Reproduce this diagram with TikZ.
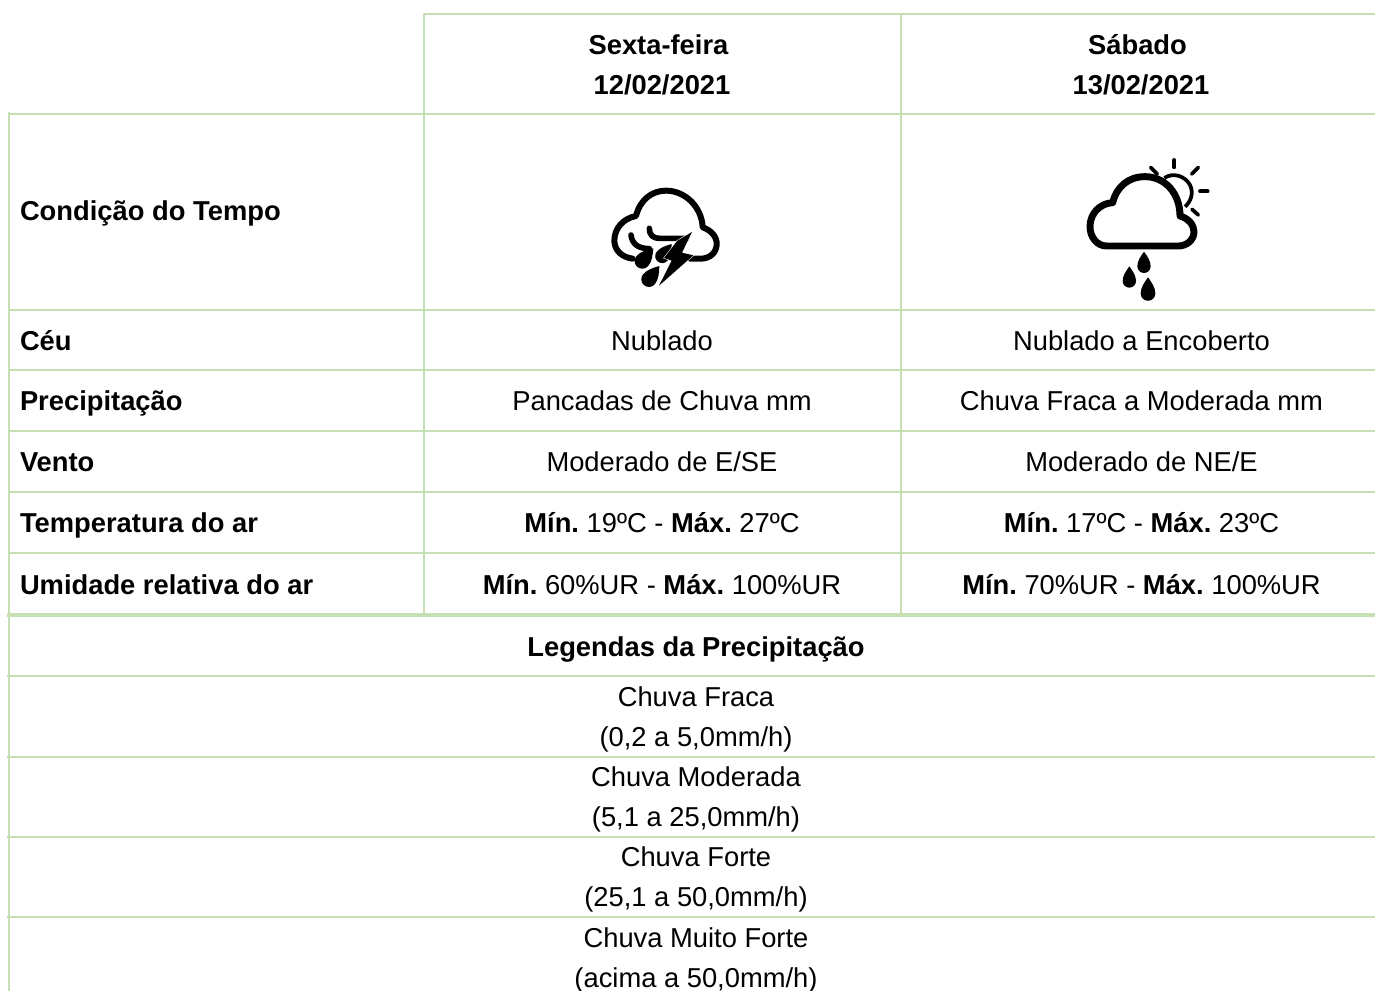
\documentclass[tikz,border=0pt]{standalone}
\usepackage{fontspec}
\setmainfont{Liberation Sans}
\frenchspacing
\definecolor{rule}{HTML}{C6E0B4}
\tikzset{
  x=0.75pt,y=-0.75pt,
  grid/.style={draw=rule,line width=1.5pt},
  gridthick/.style={draw=rule,line width=3pt},
  cell/.style={inner sep=0pt,outer sep=0pt,anchor=base,font=\fontsize{20.5pt}{30pt}\selectfont},
  lcell/.style={cell,anchor=base west,font=\fontsize{20.5pt}{30pt}\selectfont\bfseries},
  multi/.style={cell,anchor=center,align=center},
  boldmulti/.style={multi,font=\fontsize{20.5pt}{30pt}\selectfont\bfseries},
  outline/.style={draw=black,line width=5.2pt,line join=round,line cap=round},
  stormline/.style={draw=black,line width=4.5pt,line join=round,line cap=round},
  ray/.style={draw=black,line width=2.8pt,line cap=round}
}
\newcommand{\teardrop}[3]{% tip x, tip y, radius (body below the tip)
  \fill (#1,#2) .. controls (#1+0.5*#3,#2+0.7*#3) and (#1+#3,#2+1.4*#3) .. (#1+#3,#2+2.2*#3)
   arc[start angle=0,end angle=180,radius=#3]
   .. controls (#1-#3,#2+1.4*#3) and (#1-0.5*#3,#2+0.7*#3) .. (#1,#2) -- cycle;}
\begin{document}
\begin{tikzpicture}
\useasboundingbox (0,0) rectangle (1375,991);
% grid
\draw[grid] (424,13) |- (1375,14);
\draw[grid] (424,14) -- (424,613);
\draw[grid] (901,14) -- (901,613);
\draw[grid] (9,112) -- (9,991);
\draw[grid] (9,114) -- (1375,114);
\foreach \yy in {310,370,431,492,553}{\draw[grid] (9,\yy) -- (1375,\yy);}
\draw[gridthick] (7,615) -- (1375,615);
\foreach \yy in {676,757,837,917}{\draw[grid] (7,\yy) -- (1375,\yy);}
% headers
\node[boldmulti] (h1) at (662,65) {Sexta-feira\hspace*{5.25pt}\\12/02/2021};
\node[boldmulti] (h2) at (1141,65) {Sábado\hspace*{5.25pt}\\13/02/2021};
% row labels
\node[lcell] (r0) at (20,221) {Condição do Tempo};
\node[lcell] (r1) at (20,351) {Céu};
\node[lcell] (r2) at (20,411) {Precipitação};
\node[lcell] (r3) at (20,471) {Vento};
\node[lcell] (r4) at (20,532) {Temperatura do ar};
\node[lcell] (r5) at (20,594) {Umidade relativa do ar};
% values
\node[cell] (a1) at (662,351) {Nublado};
\node[cell] (b1) at (1141.5,351) {Nublado a Encoberto};
\node[cell] (a2) at (662,411) {Pancadas de Chuva mm};
\node[cell] (b2) at (1141.5,411) {Chuva Fraca a Moderada mm};
\node[cell] (a3) at (662,471) {Moderado de E/SE};
\node[cell] (b3) at (1141.5,471) {Moderado de NE/E};
\node[cell] (a4) at (662,532) {\textbf{Mín.} 19ºC - \textbf{Máx.} 27ºC};
\node[cell] (b4) at (1141.5,532) {\textbf{Mín.} 17ºC - \textbf{Máx.} 23ºC};
\node[cell] (a5) at (662,594) {\textbf{Mín.} 60\%UR - \textbf{Máx.} 100\%UR};
\node[cell] (b5) at (1141.5,594) {\textbf{Mín.} 70\%UR - \textbf{Máx.} 100\%UR};
% legend
\node[cell,font=\fontsize{20.5pt}{30pt}\selectfont\bfseries] (l0) at (696,656) {Legendas da Precipitação};
\node[multi] (l1) at (696,719) {Chuva Fraca\\(0,2 a 5,0mm/h)};
\node[multi] (l2) at (696,799) {Chuva Moderada\\(5,1 a 25,0mm/h)};
\node[multi] (l3) at (696,879.5) {Chuva Forte\\(25,1 a 50,0mm/h)};
\node[multi] (l4) at (696,960) {Chuva Muito Forte\\(acima a 50,0mm/h)};
% icon: partly cloudy with rain
\begin{scope}[shift={(1070,150)},x=0.25pt,y=-0.25pt]
  \draw[outline] (110,288) .. controls (80,288) and (60,260) .. (60,230)
     .. controls (60,190) and (90,160) .. (128,158)
     .. controls (140,110) and (175,80) .. (225,80)
     .. controls (285,80) and (330,130) .. (330,198)
     .. controls (355,205) and (372,225) .. (372,245)
     .. controls (372,270) and (350,288) .. (325,288) -- cycle;
  \draw[ray,line cap=butt] (283,84) .. controls (310,66) and (345,78) .. (360,105) .. controls (372,130) and (362,155) .. (345,170);
  \draw[ray] (313,30) -- (313,52);
  \draw[ray] (365,72) -- (385,52);
  \draw[ray] (390,124) -- (413,124);
  \draw[ray] (366,178) -- (385,195);
  \draw[ray] (242,52) -- (262,72);
  \teardrop{222}{305}{20}
  \teardrop{178}{349}{20}
  \teardrop{234}{382}{22}
\end{scope}
% icon: thunderstorm
\begin{scope}[shift={(590,170)},x=0.25pt,y=-0.25pt]
  \draw[stormline] (128,266) .. controls (95,262) and (73,240) .. (73,212)
     .. controls (73,175) and (100,145) .. (138,138)
     .. controls (150,90) and (185,62) .. (228,62)
     .. controls (285,62) and (335,110) .. (338,172)
     .. controls (362,180) and (382,200) .. (380,225)
     .. controls (378,250) and (358,266) .. (332,266) -- (300,266);
  \draw[stormline,line width=4.2pt] (178,175) .. controls (178,195) and (188,205) .. (210,205) -- (290,205);
  \draw[stormline,line width=4.2pt] (123,195) .. controls (126,222) and (145,236) .. (178,236);
  \begin{scope}[rotate around={-41:(190,235)}]\teardrop{190}{235}{23}\end{scope}
  \begin{scope}[rotate around={-38:(245,222)}]\teardrop{245}{222}{21}\end{scope}
  \draw[white,line width=0.8pt,fill=black] (306,186) -- (276,248) -- (310,256) -- (207,347) -- (245,272) -- (222,264) -- (262,212) -- cycle;
  \fill (306,186) -- (276,248) -- (310,256) -- (207,347) -- (245,272) -- (222,264) -- (262,212) -- cycle;
  \begin{scope}[rotate around={-38:(208,288)}]\teardrop{208}{288}{23}\end{scope}
\end{scope}
\end{tikzpicture}
\end{document}
